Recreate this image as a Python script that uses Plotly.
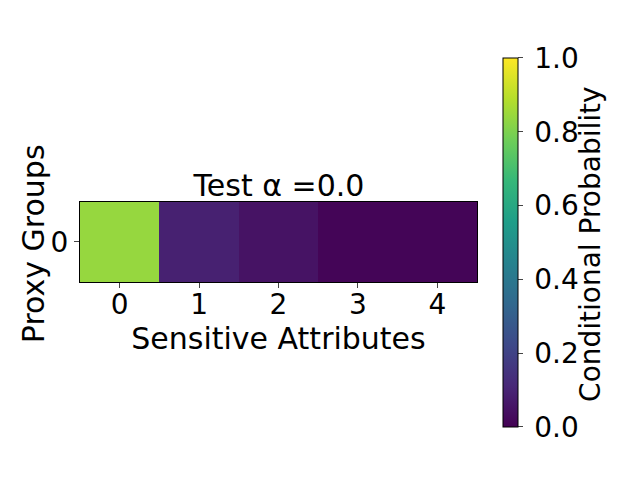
import plotly.graph_objects as go

sensitive = [0, 1, 2, 3, 4]
proxy_groups = [0]
probs = [[0.84, 0.09, 0.05, 0.01, 0.01]]
cbar_ticks = [0, 0.2, 0.4, 0.6, 0.8, 1.0]

FS = 30   # labels / title
TS = 28   # tick labels

fig = go.Figure(go.Heatmap(
    z=probs, x=sensitive, y=proxy_groups,
    colorscale="Viridis", zmin=0, zmax=1,
    colorbar=dict(
        thickness=15, len=0.81, lenmode="fraction",
        x=0.773, xanchor="left", y=0.5115, yanchor="middle", xpad=0, ypad=10,
        tickvals=cbar_ticks,
        ticktext=["\u2009%.1f" % v for v in cbar_ticks],
        tickfont=dict(size=TS, family="DejaVu Sans", color="black"),
        ticks="outside", ticklen=5, outlinewidth=1, outlinecolor="black",
    ),
))

fig.add_annotation(
    text="Conditional Probability", textangle=-90,
    x=0.909, y=0.508, xref="paper", yref="paper",
    xanchor="center", yanchor="middle", showarrow=False,
    font=dict(size=28, family="DejaVu Sans", color="black"),
)
fig.add_annotation(
    text="Proxy Groups", textangle=-90,
    x=0.039, y=0.51, xref="paper", yref="paper",
    xanchor="center", yanchor="middle", showarrow=False,
    font=dict(size=FS, family="DejaVu Sans", color="black"),
)

fig.update_layout(
    width=640, height=480,
    margin=dict(l=0, r=0, t=0, b=0),
    paper_bgcolor="white", plot_bgcolor="white",
    font=dict(family="DejaVu Sans", color="black"),
    title=dict(text="Test α =0.0", x=0.4234, xanchor="center", y=0.631, yanchor="middle",
               font=dict(size=FS)),
    xaxis=dict(domain=[0.1125, 0.7328], range=[-0.5, 4.5], tickvals=sensitive,
               ticks="outside", ticklen=5, tickfont=dict(size=TS), ticklabelstandoff=-8,
               title=dict(text="Sensitive Attributes", font=dict(size=FS), standoff=2),
               showline=True, linecolor="black", mirror=True, showgrid=False, zeroline=False),
    yaxis=dict(domain=[0.4292, 0.5958], range=[0.5, -0.5], tickvals=proxy_groups,
               ticks="outside", ticklen=5, tickfont=dict(size=TS),
               showline=True, linecolor="black", mirror=True, showgrid=False, zeroline=False),
)

fig.write_html("out.html")
